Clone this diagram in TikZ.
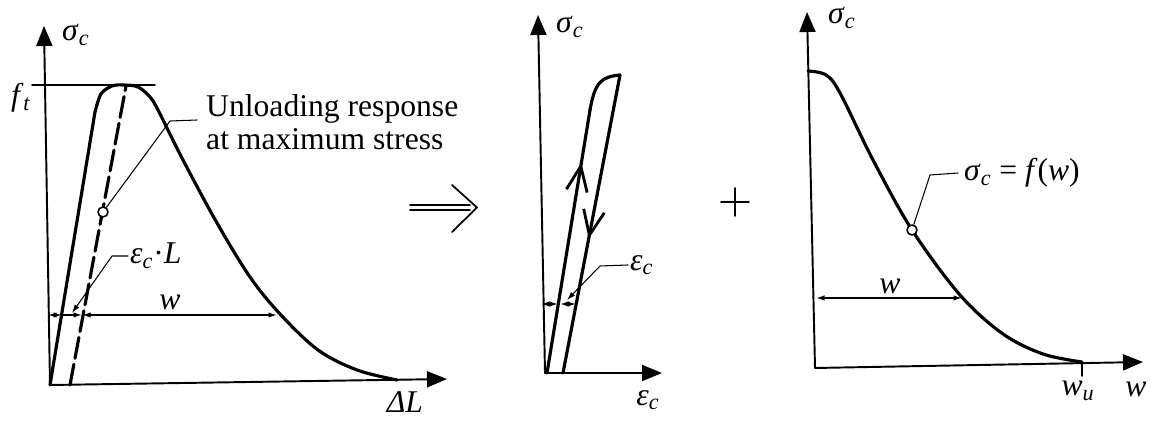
\documentclass[tikz,border=0pt]{standalone}
\usepackage{fontspec}
\setmainfont{Liberation Serif}
\usetikzlibrary{arrows.meta,decorations.markings}

\newcommand{\sigc}{\textit{σ}\textsubscript{\textit{c}}}
\newcommand{\epsc}{\textit{ε}\textsubscript{\textit{c}}}

\begin{document}
\begin{tikzpicture}[x=0.02cm,y=-0.02cm,line cap=round,line join=round,
  font=\fontsize{18}{20}\selectfont,
  axis/.style={line width=1.1pt,-{Triangle[length=0.4cm,width=0.32cm]}},
  curve/.style={line width=1.8pt},
  lead/.style={line width=0.6pt},
  dim/.style={line width=0.9pt},
  tip/.tip={Latex[length=0.17cm,width=0.11cm]},
  pt/.style={circle,draw,line width=0.9pt,fill=white,inner sep=0pt,minimum size=0.2cm},
  barb/.style={postaction=decorate,decoration={markings,
    mark=at position #1 with {\arrow{Straight Barb[length=0.5cm,width=0.42cm,line width=1.6pt]}}}}]
 \useasboundingbox (0,0) rectangle (1151,421);

 % left: force--elongation
 \coordinate (o1) at (50,385);
 \draw[axis] (o1) -- (44,26);
 \draw[axis] (o1) -- (447,379);
 \node[anchor=west] (s1) at (56,35) {\sigc};
 \node (dl) at (405,402) {\textit{ΔL}};
 \node (ft) at (21,98) {\textit{f}\textsubscript{\textit{t}}};
 \draw[line width=1pt] (32,85) -- (155,85);
 \draw[curve] (o1) -- plot[smooth,tension=.55] coordinates {(95,112) (101,94)
  (112,86) (124,85) (138,87) (150,97) (158,110) (183,160) (217,223) (250,277)
  (280,314) (318,350) (357,370) (397,380)};
 \draw[curve,dash pattern=on 12pt off 3.5pt] (70,385) -- (126,86);
 \node[pt] (c1) at (103,212) {};
 \coordinate (k1) at (197,120);
 \draw[lead] (c1) -- (170,121) -- (k1);
 \node[anchor=base west] (t1) at (200,117) {Unloading response};
 \node[anchor=base west] (t2) at (200,150) {at maximum stress};
 \node[anchor=west,inner sep=1pt] (el) at (128,256) {\epsc·\textit{L}};
 \draw[lead,-tip] (el.west) -- (112,256) -- (72,313);
 \coordinate (a1) at (48,315);
 \coordinate (b1) at (62,315);
 \coordinate (d1) at (82,315);
 \coordinate (e1) at (277,315);
 \draw[dim,tip-tip] (a1) -- (b1);
 \draw[dim,-tip] (b1) -- (d1);
 \draw[dim,tip-tip] (d1) -- (e1);
 \node (w1) at (170,302) {\textit{w}};

 % implies
 \draw[line width=1pt] (410,205) -- (470,205) (410,210) -- (470,210);
 \draw[line width=1pt] (452,185) -- (477,207.5) -- (452,232);

 % middle: stress--strain
 \coordinate (o2) at (545,373);
 \draw[axis] (o2) -- (538,15);
 \draw[axis] (o2) -- (662,373);
 \node[anchor=west] (s2) at (550,27) {\sigc};
 \node (e2) at (648,400) {\epsc};
 \draw[curve,barb=.8] (547,373) -- (590,110);
 \draw[curve] (590,110) .. controls (595,82) and (601,77) .. (620,75);
 \draw[curve,barb=.55] (620,75) -- (563,373);
 \node[anchor=west,inner sep=1pt] (ec) at (628,265) {\epsc};
 \draw[lead,-tip] (ec.west) -- (600,266) -- (567,300);
 \draw[dim,tip-tip] (541,304) -- (558,304);
 \draw[dim,tip-tip] (560,304) -- (576,304);

 % plus
 \draw[line width=1pt] (721,202) -- (749,202) (735,188) -- (735,216);

 % right: softening law
 \coordinate (o3) at (815,368);
 \draw[axis] (o3) -- (807,12);
 \draw[axis] (o3) -- (1143,362);
 \node[anchor=west] (s3) at (822,18) {\sigc};
 \node (w3) at (1136,389) {\textit{w}};
 \draw[line width=1pt] (1082,362) -- (1082,376);
 \node (wu) at (1078,391) {\textit{w}\textsubscript{\textit{u}}};
 \draw[curve] plot[smooth,tension=.55] coordinates {(808,71) (826,75) (840,93)
  (873,160) (912,230) (960,295) (1003,334) (1043,354) (1082,362)};
 \node[pt] (c3) at (912,230) {};
 \node[anchor=west] (fw) at (958,173) {\sigc{} = \textit{f}(\textit{w})};
 \draw[lead] (c3) -- (930,175) -- (fw.west);
 \draw[dim,tip-tip] (816,298) -- (962,298);
 \node (w2) at (890,286) {\textit{w}};
\end{tikzpicture}
\end{document}
